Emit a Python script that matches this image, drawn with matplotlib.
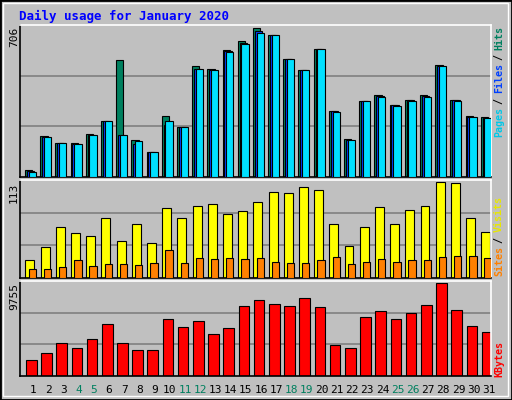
import matplotlib
matplotlib.use("Agg")
import matplotlib.pyplot as plt
from matplotlib.patches import Rectangle
import numpy as np

days = list(range(1, 32))
weekends = [4, 5, 11, 12, 18, 19, 25, 26]
hits = [32,195,160,160,203,265,553,174,117,289,236,525,514,600,644,706,672,557,506,605,313,179,361,390,342,366,390,530,366,289,284]
files = [28,190,160,157,200,265,199,157,117,246,236,512,508,596,636,690,672,557,506,605,311,176,361,385,339,363,385,526,363,286,281]
pages = [26,188,160,155,199,265,199,169,117,265,236,510,506,594,632,681,672,557,506,605,309,174,361,380,337,361,380,524,361,284,279]
visits = [21,36,60,53,49,70,44,64,41,82,71,85,87,75,79,89,101,100,107,103,64,38,60,84,63,80,85,113,112,70,54]
sites = [11,11,13,21,14,16,16,15,18,33,18,24,22,24,22,24,19,18,18,21,25,16,19,22,19,21,21,25,26,26,24]
kbytes = [1638,2385,3453,2919,3880,5482,3453,2705,2705,6016,5162,5803,4414,5055,7298,7939,7512,7298,8152,7191,3240,2919,6230,6764,6016,6550,7405,9755,6871,5269,4628]

W, H = 512, 400
BG = "#C0C0C0"
fig = plt.figure(figsize=(W/100, H/100), dpi=100, facecolor=BG)
mono = "DejaVu Sans Mono"

fig.patches.append(Rectangle((0, 0), 1, 1, transform=fig.transFigure, fill=False, edgecolor="black", lw=2))
fig.patches.append(Rectangle((3/W, 4/H), 1-7/W, 1-7/H, transform=fig.transFigure, fill=False, edgecolor="white", lw=1))

def ax_px(x0, y0, x1, y1):
    return fig.add_axes([x0/W, 1-y1/H, (x1-x0)/W, (y1-y0)/H])

x = np.array(days, dtype=float)
def style(ax, ymax):
    ax.set_facecolor(BG)
    ax.set_xlim(0.14, 31.14)
    ax.set_ylim(0, ymax*1.02)
    ax.set_xticks([]); ax.set_yticks([])
    for s in ("top", "right"):
        ax.spines[s].set_color("white")
    for s in ("left", "bottom"):
        ax.spines[s].set_color("black")
    for sp in ax.spines.values():
        sp.set_linewidth(1.2)
    for k in (1, 2):
        ax.axhline(ymax*1.02*k/3, color="#808080", lw=1.2, zorder=0)

ax1 = ax_px(20, 25, 491, 177)
style(ax1, 706)
ax1.bar(x-0.53, hits, width=0.48, align="edge", color="#00805F", edgecolor="black", lw=0.8, zorder=2)
ax1.bar(x-0.41, files, width=0.48, align="edge", color="#0040FF", edgecolor="black", lw=0.8, zorder=3)
ax1.bar(x-0.29, pages, width=0.48, align="edge", color="#00E0FF", edgecolor="black", lw=0.8, zorder=4)

ax2 = ax_px(20, 180, 491, 278)
style(ax2, 113)
ax2.bar(x-0.5, visits, width=0.59, align="edge", color="#FFFF00", edgecolor="black", lw=0.8, zorder=2)
ax2.bar(x-0.29, sites, width=0.48, align="edge", color="#FF8000", edgecolor="black", lw=0.8, zorder=3)

ax3 = ax_px(20, 281, 491, 376)
style(ax3, 9755)
ax3.bar(x-0.47, kbytes, width=0.7, align="edge", color="#FF0000", edgecolor="black", lw=0.8, zorder=2)

for d in days:
    ax3.text(d, -0.09, str(d), transform=ax3.get_xaxis_transform(), ha="center", va="top",
             fontsize=8, family=mono, color="#00805F" if d in weekends else "black")

fig.text(19/W, 1-16/H, "Daily usage for January 2020", family=mono, weight="bold",
         fontsize=9, color="#0000FF", va="center", ha="left")

for ytop, lab in ((27, "706"), (183, "113"), (283, "9755")):
    fig.text(14/W, 1-ytop/H, lab, rotation=90, family=mono, fontsize=8, ha="center", va="top")

def right_label(ybottom, parts):
    step = 5.45
    k = 0
    for txt, col in parts:
        fig.text(499/W, 1-(ybottom - step*k)/H, txt, rotation=90, family=mono, fontsize=7.2,
                 weight="bold", color=col, ha="center", va="bottom")
        k += len(txt)

right_label(137, [("Pages", "#00C8E8"), (" / ", "black"), ("Files", "#0040FF"), (" / ", "black"), ("Hits", "#00805F")])
right_label(276, [("Sites", "#FF8000"), (" / ", "black"), ("Visits", "#E8E800")])
right_label(377, [("KBytes", "#FF0000")])

fig.savefig("out.png", dpi=100, facecolor=BG)
